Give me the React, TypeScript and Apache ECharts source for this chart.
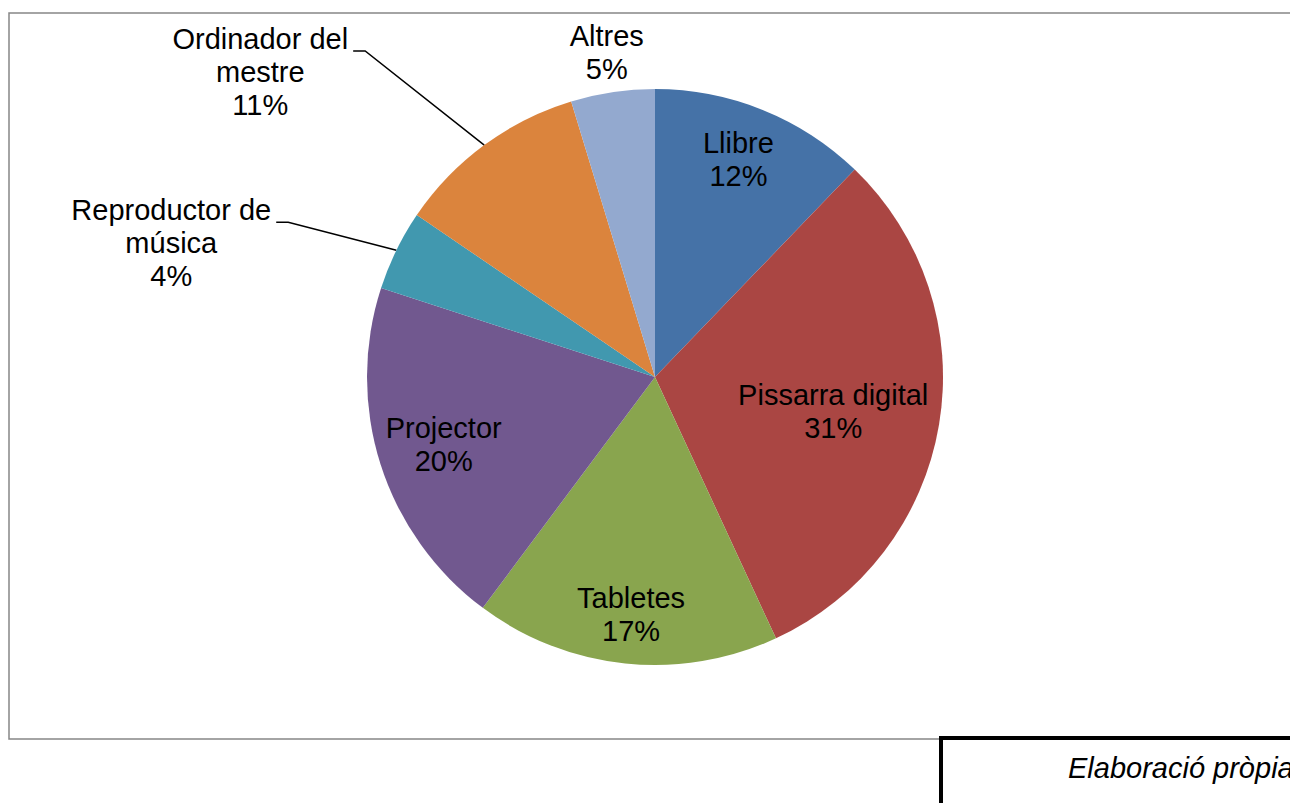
import React, { useEffect, useRef } from "react";
import * as echarts from "echarts";

const categories = [
  "Llibre",
  "Pissarra digital",
  "Tabletes",
  "Projector",
  "Reproductor de\nmúsica",
  "Ordinador del\nmestre",
  "Altres",
];
const values = [12.2, 30.9, 17.1, 19.8, 4.5, 10.8, 4.7];
const colors = ["#4572A7", "#AA4643", "#89A54E", "#71588F", "#4198AF", "#DB843D", "#93A9CF"];
const footnote = "Elaboració pròpia";

// label placement: [angle offset from slice middle (deg), distance as fraction of radius]
const labelPlacement: [number, number][] = [
  [-1, 0.81],
  [1.3, 0.63],
  [-0.2, 0.83],
  [0, 0.77],
  [-10.6, 1.743],
  [-15.9, 1.733],
  [0, 1.138],
];
const outsideLabel = [false, false, false, false, true, true, true];
const showLeader = [false, false, false, false, true, true, false];

const CX = 655;
const CY = 377;
const R = 288;
const FONT = "'Liberation Sans', Arial, sans-serif";

export default function App() {
  const ref = useRef<HTMLDivElement>(null);
  useEffect(() => {
    if (!ref.current) return;
    const chart = echarts.init(ref.current, null, { renderer: "svg" });
    const total = values.reduce((a, b) => a + b, 0);
    const midAngles: number[] = [];
    let acc = 0;
    values.forEach((v) => {
      midAngles.push(((acc + v / 2) / total) * 360);
      acc += v;
    });
    const toRad = Math.PI / 180;
    chart.setOption({
      animation: false,
      backgroundColor: "#ffffff",
      graphic: [
        {
          type: "rect",
          z: 0,
          shape: { x: 9, y: 13, width: 1300, height: 726 },
          style: { fill: "none", stroke: "#868686", lineWidth: 1.5 },
        },
        {
          type: "rect",
          z: 10,
          shape: { x: 941, y: 738, width: 400, height: 100 },
          style: { fill: "#ffffff", stroke: "#000000", lineWidth: 4 },
        },
        {
          type: "text",
          z: 11,
          x: 1068,
          y: 768,
          style: {
            text: footnote,
            font: `italic 29px ${FONT}`,
            fill: "#000000",
            verticalAlign: "middle",
            align: "left",
          },
        },
      ],
      series: [
        {
          type: "pie",
          center: [CX, CY],
          radius: [0, R],
          startAngle: 90,
          clockwise: true,
          avoidLabelOverlap: false,
          percentPrecision: 0,
          itemStyle: { borderWidth: 0 },
          label: {
            formatter: "{b}\n{d}%",
            color: "#000000",
            fontFamily: FONT,
            fontSize: 29,
            lineHeight: 33,
            align: "center",
          },
          labelLine: {
            lineStyle: { color: "#000000", width: 1.5 },
          },
          labelLayout: (p: any) => {
            const i = p.dataIndex;
            const [off, rf] = labelPlacement[i];
            const a = (midAngles[i] + off) * toRad;
            const x = CX + R * rf * Math.sin(a);
            const y = CY - R * rf * Math.cos(a);
            const res: any = { x, y, align: "center", verticalAlign: "middle" };
            if (showLeader[i]) {
              const w = p.labelRect.width;
              const h = p.labelRect.height;
              const lineY = y - h / 2 + 29;
              const right = x + w / 2 + 5;
              const ea = midAngles[i] * toRad;
              res.labelLinePoints = [
                [CX + R * Math.sin(ea), CY - R * Math.cos(ea)],
                [right + 12, lineY],
                [right, lineY],
              ];
            }
            return res;
          },
          data: categories.map((name, i) => ({
            name,
            value: values[i],
            itemStyle: { color: colors[i] },
            label: { position: outsideLabel[i] ? "outside" : "inside" },
            labelLine: { show: showLeader[i] },
          })),
        },
      ],
    });
    return () => chart.dispose();
  }, []);
  return (
    <div
      ref={ref}
      style={{ position: "absolute", left: 0, top: 0, width: 1290, height: 803 }}
    />
  );
}
